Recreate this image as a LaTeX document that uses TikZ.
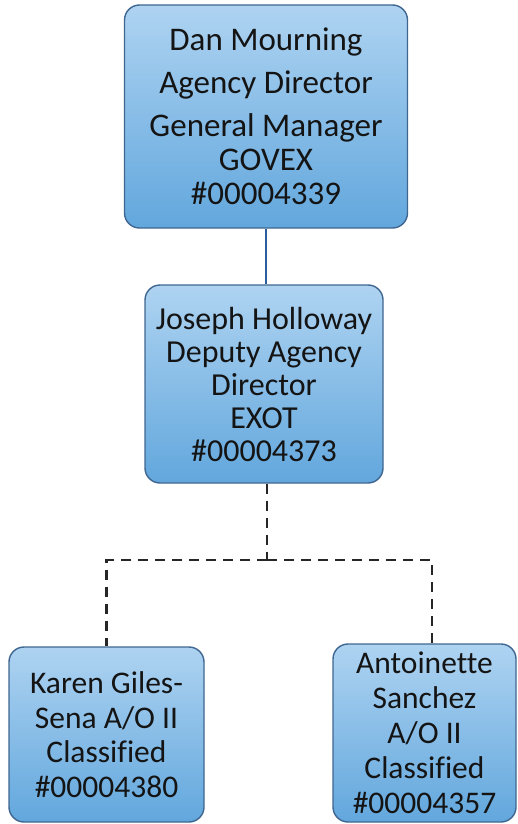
\documentclass[tikz,border=0pt]{standalone}
\usepackage{fontspec}
\setmainfont[Ligatures=NoCommon]{Carlito}
\definecolor{boxtop}{HTML}{AED3F1}
\definecolor{boxbot}{HTML}{62A7DD}
\definecolor{boxedge}{HTML}{3F6690}
\definecolor{linkblue}{HTML}{2A5E9E}
\definecolor{inktext}{HTML}{141414}
\tikzset{
  person/.style={draw=boxedge, line width=1.4pt, rounded corners=15pt,
    top color=boxtop, bottom color=boxbot, align=center, inner sep=0pt,
    text=inktext},
  solidlink/.style={draw=linkblue, line width=2.2pt},
  dashlink/.style={draw=black!85, line width=2.5pt, dash pattern=on 10pt off 7pt}
}
\begin{document}
\begin{tikzpicture}[x=1pt,y=-1pt]
\useasboundingbox (0,0) rectangle (517,824);

% director
\node[person, minimum width=283pt, minimum height=223pt,
      font=\fontsize{33}{34}\selectfont] (dir) at (266,116.5)
  {Dan Mourning\\[9pt] Agency Director\\[9pt] General Manager\\ GOVEX\\ \#00004339};

% deputy
\node[person, minimum width=238pt, minimum height=198pt,
      font=\fontsize{32}{33}\selectfont] (dep) at (264,384)
  {Joseph Holloway\\ Deputy Agency\\ Director\\ EXOT\\ \#00004373};

% staff
\node[person, minimum width=195pt, minimum height=175pt,
      font=\fontsize{31.5}{34.5}\selectfont] (karen) at (106.5,734.5)
  {Karen Giles-\\ Sena A/O II\\ Classified\\ \#00004380};
\node[person, minimum width=183pt, minimum height=178pt,
      font=\fontsize{31.5}{35}\selectfont] (antoinette) at (424.5,733)
  {Antoinette\\ Sanchez\\ A/O II\\ Classified\\ \#00004357};

% connectors
\coordinate (branch) at (267,560);
\coordinate (rdrop) at (432,560);
\draw[solidlink] (dir.south) -- (dir.south |- dep.north);
\draw[dashlink] (branch |- dep.south) -- (branch);
\draw[dashlink] (branch) -| (karen.north);
\draw[dashlink] (branch) -- (rdrop) -- (rdrop |- antoinette.north);
\end{tikzpicture}
\end{document}
